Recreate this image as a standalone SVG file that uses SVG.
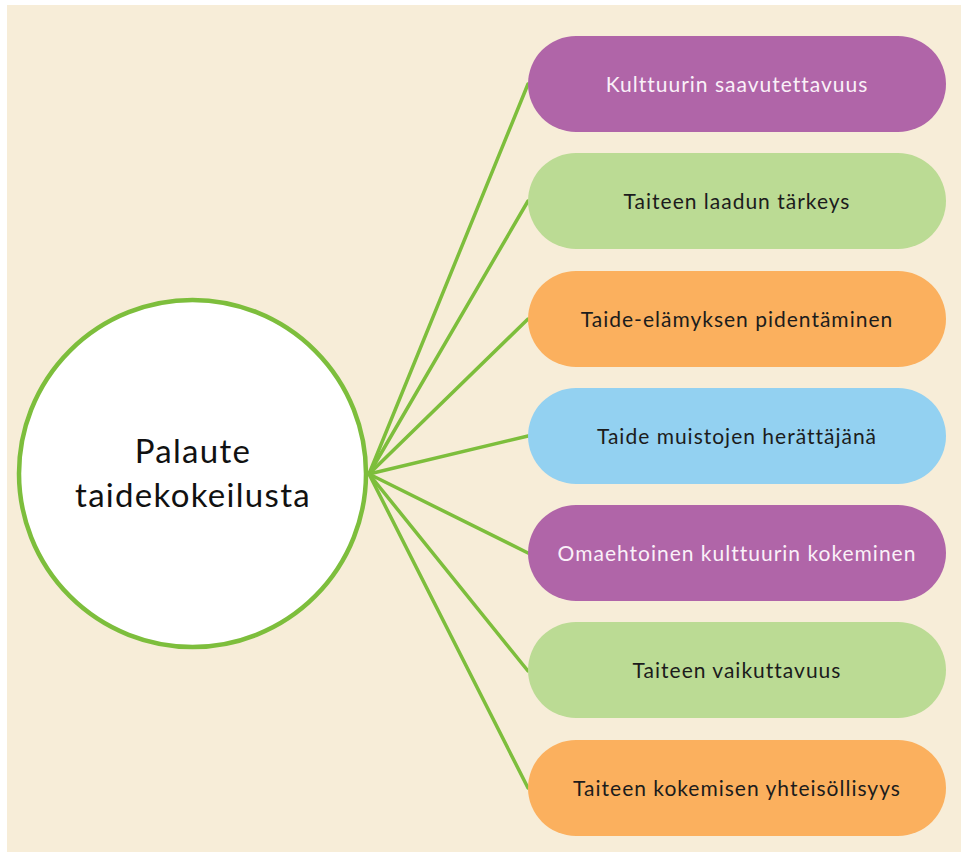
<svg xmlns="http://www.w3.org/2000/svg" width="961" height="852" viewBox="0 0 961 852">
<style>
.pill text{font-family:Lato,"Noto Sans","Liberation Sans",sans-serif;font-size:21px;letter-spacing:1px;text-anchor:middle;fill:#1c1c1c}
.pill.purple rect{fill:#B065A8}
.pill.purple text{fill:#FAF0F8}
.pill.green rect{fill:#BBDB94}
.pill.orange rect{fill:#FBB05E}
.pill.blue rect{fill:#93D1F1}
#connectors line{stroke:#7DBE3C;stroke-width:3.5;stroke-linecap:round}
#center text{font-family:Lato,"Noto Sans","Liberation Sans",sans-serif;font-size:33px;letter-spacing:1.3px;text-anchor:middle;fill:#111}
</style>
<rect x="0" y="0" width="961" height="852" fill="#ffffff"/>
<rect x="7" y="5" width="954" height="847" fill="#F7EDD8"/>
<g id="connectors">
<line x1="369" y1="474" x2="528" y2="84"/>
<line x1="369" y1="474" x2="528" y2="201"/>
<line x1="369" y1="474" x2="528" y2="319"/>
<line x1="369" y1="474" x2="528" y2="436"/>
<line x1="369" y1="474" x2="528" y2="553"/>
<line x1="369" y1="474" x2="528" y2="671"/>
<line x1="369" y1="474" x2="528" y2="788"/>
</g>
<g id="center">
<circle cx="192.5" cy="473.5" r="173.5" fill="#ffffff" stroke="#7DBE3C" stroke-width="4.5"/>
<text x="193" y="463">Palaute</text>
<text x="193" y="507">taidekokeilusta</text>
</g>
<g id="n1" class="pill purple"><rect x="528" y="36" width="418" height="96" rx="48"/><text x="737" y="92">Kulttuurin saavutettavuus</text></g>
<g id="n2" class="pill green"><rect x="528" y="153" width="418" height="96" rx="48"/><text x="737" y="209">Taiteen laadun tärkeys</text></g>
<g id="n3" class="pill orange"><rect x="528" y="271" width="418" height="96" rx="48"/><text x="737" y="327">Taide-elämyksen pidentäminen</text></g>
<g id="n4" class="pill blue"><rect x="528" y="388" width="418" height="96" rx="48"/><text x="737" y="444">Taide muistojen herättäjänä</text></g>
<g id="n5" class="pill purple"><rect x="528" y="505" width="418" height="96" rx="48"/><text x="737" y="561">Omaehtoinen kulttuurin kokeminen</text></g>
<g id="n6" class="pill green"><rect x="528" y="622" width="418" height="96" rx="48"/><text x="737" y="678">Taiteen vaikuttavuus</text></g>
<g id="n7" class="pill orange"><rect x="528" y="740" width="418" height="96" rx="48"/><text x="737" y="796">Taiteen kokemisen yhteisöllisyys</text></g>
</svg>
